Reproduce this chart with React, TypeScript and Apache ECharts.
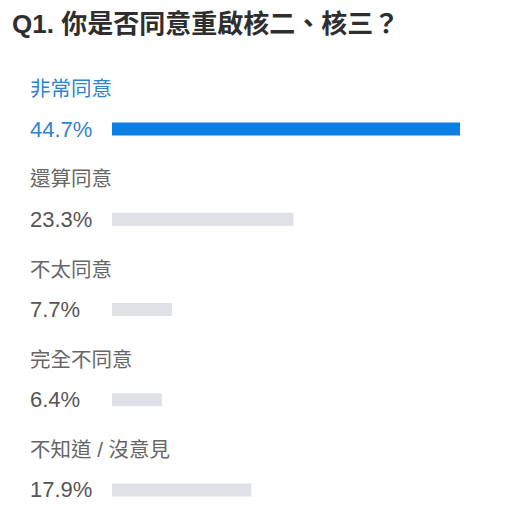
import { useEffect, useRef } from 'react';
import * as echarts from 'echarts';

const titleText = 'Q1. 你是否同意重啟核二、核三？';
const categories = ['非常同意', '還算同意', '不太同意', '完全不同意', '不知道 / 沒意見'];
const values = [44.7, 23.3, 7.7, 6.4, 17.9];
const highlightIndex = 0;

const FONT = "'Liberation Sans', 'Noto Sans CJK TC', sans-serif";
const BLUE_BAR = '#0a7fe6';
const BLUE_TEXT = '#2f83d3';
const GREY_BAR = '#dfe1e6';
const GREY_PCT = '#555555';
const GREY_NAME = '#666666';

const App = () => {
    const chartRef = useRef<HTMLDivElement>(null);

    useEffect(() => {
        document.body.style.margin = '0';
        if (!chartRef.current) return;
        const chart = echarts.init(chartRef.current, undefined, { renderer: 'svg' });

        chart.setOption({
            animation: false,
            backgroundColor: '#ffffff',
            title: {
                text: titleText,
                left: 12,
                top: 11,
                padding: 0,
                textStyle: { fontSize: 26, fontWeight: 'bold', color: '#2e2e2e', fontFamily: FONT }
            },
            grid: {
                left: 112,
                right: 52,
                top: 84,
                height: 451,
                containLabel: false,
                outerBoundsMode: 'none'
            },
            xAxis: {
                type: 'value',
                min: 0,
                max: Math.max(...values),
                show: false
            },
            yAxis: {
                type: 'category',
                inverse: true,
                data: categories,
                axisLine: { show: false },
                axisTick: { show: false },
                splitLine: { show: false },
                axisLabel: {
                    align: 'left',
                    margin: 82,
                    fontSize: 22,
                    fontFamily: FONT,
                    color: (_v: any, i: number) => (i === highlightIndex ? BLUE_TEXT : GREY_PCT),
                    formatter: (_v: string, i: number) => values[i].toFixed(1) + '%'
                }
            },
            series: [{
                type: 'bar',
                barWidth: 13,
                data: values.map((v, i) => ({
                    value: v,
                    itemStyle: { color: i === highlightIndex ? BLUE_BAR : GREY_BAR },
                    label: { color: i === highlightIndex ? BLUE_TEXT : GREY_NAME }
                })),
                label: {
                    show: true,
                    position: [-82, -34],
                    align: 'left',
                    verticalAlign: 'middle',
                    formatter: '{b}',
                    fontSize: 20.5,
                    fontFamily: FONT
                }
            }]
        });

        return () => chart.dispose();
    }, []);

    return <div ref={chartRef} style={{ width: 512, height: 515 }} />;
};

export default App;
